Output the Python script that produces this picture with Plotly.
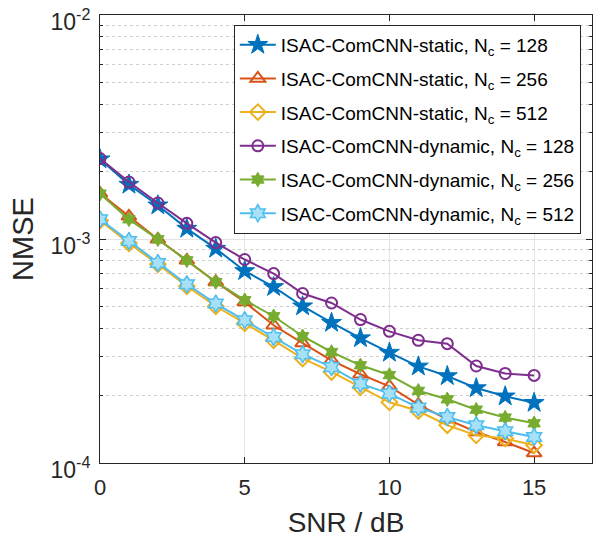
import plotly.graph_objects as go

snr = [0, 1, 2, 3, 4, 5, 6, 7, 8, 9, 10, 11, 12, 13, 14, 15]

static_128 = [2.27e-3, 1.749e-3, 1.414e-3, 1.113e-3, 9.06e-4, 7.20e-4, 6.11e-4, 5.01e-4,
              4.23e-4, 3.61e-4, 3.11e-4, 2.70e-4, 2.445e-4, 2.16e-4, 1.985e-4, 1.857e-4]
static_256 = [1.60e-3, 1.262e-3, 9.97e-4, 8.03e-4, 6.43e-4, 5.23e-4, 4.12e-4, 3.43e-4,
              2.87e-4, 2.49e-4, 2.20e-4, 1.823e-4, 1.567e-4, 1.375e-4, 1.241e-4, 1.108e-4]
static_512 = [1.21e-3, 9.57e-4, 7.71e-4, 6.15e-4, 5.01e-4, 4.20e-4, 3.53e-4, 2.93e-4,
              2.55e-4, 2.18e-4, 1.866e-4, 1.706e-4, 1.474e-4, 1.329e-4, 1.285e-4, 1.20e-4]
dynamic_128 = [2.285e-3, 1.796e-3, 1.448e-3, 1.175e-3, 9.64e-4, 8.10e-4, 7.01e-4, 5.71e-4,
               5.18e-4, 4.37e-4, 3.87e-4, 3.53e-4, 3.41e-4, 2.71e-4, 2.51e-4, 2.46e-4]
dynamic_256 = [1.594e-3, 1.224e-3, 9.97e-4, 8.03e-4, 6.43e-4, 5.33e-4, 4.52e-4, 3.68e-4,
               3.13e-4, 2.73e-4, 2.47e-4, 2.10e-4, 1.925e-4, 1.73e-4, 1.595e-4, 1.504e-4]
dynamic_512 = [1.224e-3, 9.80e-4, 7.81e-4, 6.28e-4, 5.15e-4, 4.34e-4, 3.65e-4, 3.06e-4,
               2.68e-4, 2.26e-4, 2.04e-4, 1.767e-4, 1.605e-4, 1.474e-4, 1.385e-4, 1.306e-4]

names = [
    "ISAC-ComCNN-static, N<sub>c</sub> = 128",
    "ISAC-ComCNN-static, N<sub>c</sub> = 256",
    "ISAC-ComCNN-static, N<sub>c</sub> = 512",
    "ISAC-ComCNN-dynamic, N<sub>c</sub> = 128",
    "ISAC-ComCNN-dynamic, N<sub>c</sub> = 256",
    "ISAC-ComCNN-dynamic, N<sub>c</sub> = 512",
]

x_ticks = [0, 5, 10, 15]
y_ticks = [1e-4, 1e-3, 1e-2]
y_ticktext = ["10<sup>-4</sup>", "10<sup>-3</sup>", "10<sup>-2</sup>"]
y_minor = [m * 10.0 ** e for e in (-4, -3) for m in range(2, 10)]

series = [static_128, static_256, static_512, dynamic_128, dynamic_256, dynamic_512]
styles = [
    dict(color="#0072BD", symbol="star", size=15, fill="#0072BD", lw=1),
    dict(color="#D95319", symbol="triangle-up-open", size=13, fill="#D95319", lw=2),
    dict(color="#EDB120", symbol="diamond-open", size=12, fill="#EDB120", lw=2),
    dict(color="#7E2F8E", symbol="circle-open", size=11, fill="#7E2F8E", lw=2),
    dict(color="#77AC30", symbol="hexagram", size=11, fill="#77AC30", lw=1),
    dict(color="#4DBEEE", symbol="hexagram", size=13, fill="#A8E0F7", lw=1.5),
]

fig = go.Figure()
for i, (ys, nm, st) in enumerate(zip(series, names, styles)):
    fig.add_trace(go.Scatter(
        x=snr, y=ys, name=nm, mode="lines+markers",
        legendgroup=f"g{i}",
        line=dict(color=st["color"], width=2),
        marker=dict(symbol=st["symbol"], size=st["size"], color=st["fill"],
                    line=dict(color=st["color"], width=st["lw"])),
    ))

axis_col = "#262626"
fig.update_layout(
    width=601, height=538,
    margin=dict(l=100, r=9, t=15, b=75),
    paper_bgcolor="white", plot_bgcolor="white",
    font=dict(family="Liberation Sans, Arial, sans-serif", color=axis_col, size=22),
    showlegend=True,
    legend=dict(
        x=0.272, y=0.978, xanchor="left", yanchor="top",
        bgcolor="white", bordercolor="#262626", borderwidth=1,
        font=dict(size=19, color="black"),
        itemwidth=36, tracegroupgap=6,
    ),
    xaxis=dict(
        range=[0, 17], tickvals=x_ticks, ticks="inside", ticklen=6,
        tickcolor=axis_col, showline=True, linecolor=axis_col, linewidth=1,
        mirror="ticks", showgrid=True, gridcolor="#e3e3e3", gridwidth=1,
        zeroline=False, tickfont=dict(size=22), automargin=False,
        ticklabeloverflow="allow", ticklabelstandoff=5,
        title=dict(text="SNR / dB", font=dict(size=28), standoff=14),
    ),
    yaxis=dict(
        type="log", range=[-4.00001, -1.99999], tickvals=y_ticks, ticktext=y_ticktext,
        ticks="inside", ticklen=6, tickcolor=axis_col,
        showline=True, linecolor=axis_col, linewidth=1, mirror="ticks",
        showgrid=True, gridcolor="#e3e3e3", gridwidth=1,
        zeroline=False, tickfont=dict(size=23), automargin=False,
        ticklabeloverflow="allow", ticklabelshift=7, ticklabelstandoff=4,
        minor=dict(tickvals=y_minor, ticks="inside", ticklen=3, tickcolor=axis_col,
                   showgrid=True, gridcolor="#cfcfcf", griddash="dot", gridwidth=1),
        title=dict(text="NMSE", font=dict(size=29), standoff=8),
    ),
)

fig.write_html(
    "out.html",
    config={"displayModeBar": False},
    post_script="document.body.style.margin='0';document.body.style.overflow='hidden';",
)
